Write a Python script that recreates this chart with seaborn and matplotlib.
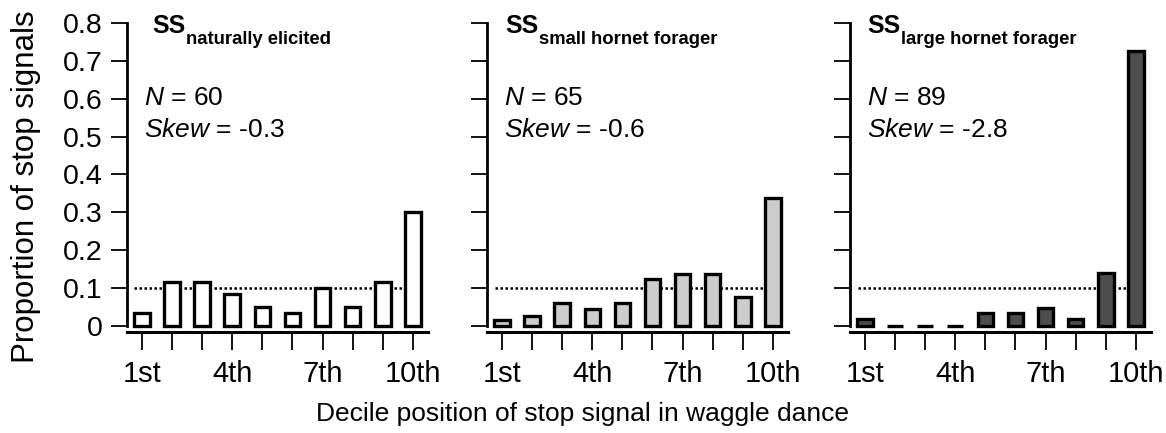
import pandas as pd
import matplotlib
matplotlib.use("Agg")
import matplotlib.pyplot as plt
import seaborn as sns

# Data
deciles = ["1st", "2nd", "3rd", "4th", "5th", "6th", "7th", "8th", "9th", "10th"]
tick_labels = ["1st", "", "", "4th", "", "", "7th", "", "", "10th"]
natural = [0.033, 0.117, 0.117, 0.083, 0.05, 0.033, 0.1, 0.05, 0.117, 0.3]
small_hornet = [0.015, 0.026, 0.06, 0.046, 0.06, 0.123, 0.138, 0.138, 0.077, 0.338]
large_hornet = [0.018, 0.0, 0.0, 0.0, 0.034, 0.034, 0.048, 0.018, 0.14, 0.725]
subscripts = ["naturally elicited", "small hornet forager", "large hornet forager"]
n_values = [60, 65, 89]
skews = [-0.3, -0.6, -2.8]
colors = ["white", "#cccccc", "#4d4d4d"]
expected = 0.1

sns.set_style("ticks")
plt.rcParams["font.family"] = ["Liberation Sans", "DejaVu Sans"]
plt.rcParams["mathtext.fontset"] = "custom"
plt.rcParams["mathtext.rm"] = "Liberation Sans"
plt.rcParams["mathtext.it"] = "Liberation Sans:italic"
for key in ["text.color", "axes.labelcolor", "xtick.color", "ytick.color", "axes.edgecolor"]:
    plt.rcParams[key] = "black"

fig = plt.figure(figsize=(11.66, 4.33), dpi=100)
lefts = [0.1089, 0.4177, 0.729]
title_x = [0.083, 0.06, 0.056]

for i, vals in enumerate([natural, small_hornet, large_hornet]):
    ax = fig.add_axes([lefts[i], 0.2333, 0.258, 0.7136])
    df = pd.DataFrame({"decile": deciles, "prop": vals})
    # dotted line for uniform expectation, behind the bars
    ax.plot([-0.25, 9.35], [expected, expected], ls=(0, (1, 1)), color="black",
            lw=1.8, zorder=1)
    sns.barplot(data=df, x="decile", y="prop", order=deciles, color=colors[i],
                saturation=1, edgecolor="black", linewidth=2.4, width=0.52,
                ax=ax, zorder=2)
    ax.set_xlim(-0.5, 9.5)
    ax.set_ylim(-0.016, 0.8)
    ax.set_yticks([0, 0.1, 0.2, 0.3, 0.4, 0.5, 0.6, 0.7, 0.8])
    if i == 0:
        ax.set_yticklabels(["0", "0.1", "0.2", "0.3", "0.4", "0.5", "0.6", "0.7", "0.8"])
        ax.set_ylabel("Proportion of stop signals", fontsize=22.5)
        ax.yaxis.set_label_coords(-0.287, 0.469)
    else:
        ax.set_yticklabels([])
        ax.set_ylabel("")
    ax.set_xticks(range(10))
    ax.set_xticklabels(tick_labels)
    ax.set_xlabel("")
    ax.tick_params(axis="y", length=11.5, width=1.3, labelsize=20.5, pad=6)
    ax.tick_params(axis="x", length=13, width=1.3, labelsize=21, pad=7)
    for side in ["top", "right"]:
        ax.spines[side].set_visible(False)
    ax.spines["left"].set_bounds(0, 0.8)
    ax.spines["left"].set_linewidth(2.0)
    ax.spines["bottom"].set_linewidth(2.2)
    ax.patch.set_alpha(0)

    t = ax.text(title_x[i], 0.968, "SS", transform=ax.transAxes, fontsize=18,
                fontweight="bold", va="baseline", ha="left")
    ax.annotate(subscripts[i], xy=(1, 0), xycoords=t, xytext=(0.5, -4.5),
                textcoords="offset points", fontsize=13.3, fontweight="bold",
                va="baseline", ha="left")
    ax.text(0.058, 0.735, r"$\mathit{N}$ = %d" % n_values[i], transform=ax.transAxes,
            fontsize=19, va="baseline", ha="left")
    ax.text(0.058, 0.631, r"$\mathit{Skew}$ = %.1f" % skews[i], transform=ax.transAxes,
            fontsize=19, va="baseline", ha="left")

fig.text(0.5, 0.028, "Decile position of stop signal in waggle dance", fontsize=19,
         ha="center", va="baseline")

fig.savefig("out.png", dpi=100)
